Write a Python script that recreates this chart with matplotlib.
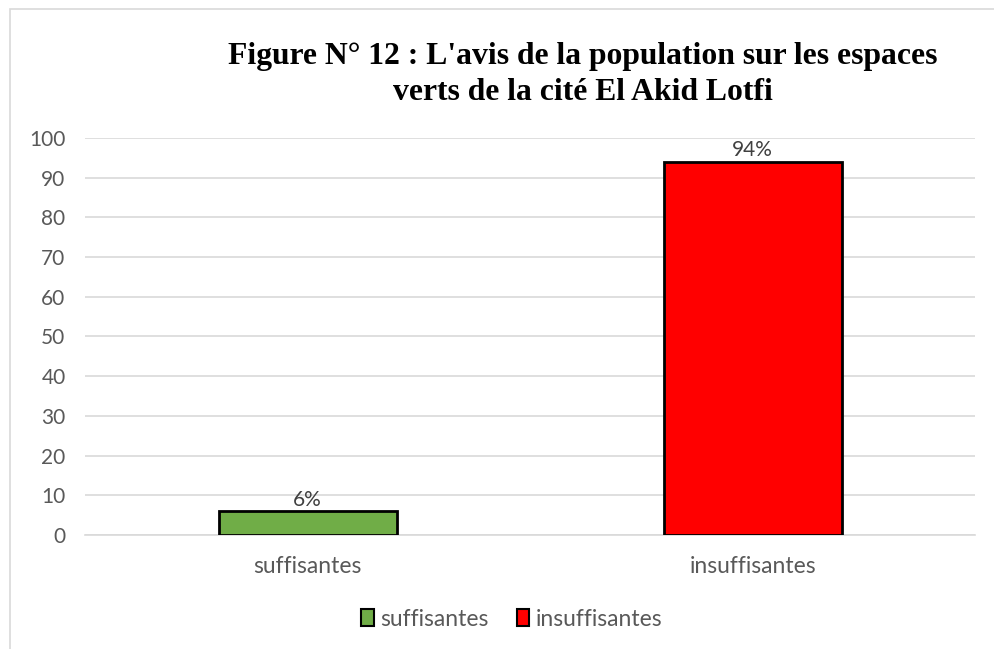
import matplotlib.pyplot as plt
from matplotlib.patches import Patch, Rectangle

# data
categories = ['suffisantes', 'insuffisantes']
values = [6, 94]
labels = ['6%', '94%']
colors = ['#70AD47', '#FF0000']
title_lines = ["Figure N° 12 : L'avis de la population sur les espaces",
               "verts de la cité El Akid Lotfi"]

plt.rcParams['font.family'] = ['Lato', 'DejaVu Sans']

fig = plt.figure(figsize=(9.94, 6.49), dpi=100)
ax = fig.add_axes([0.0855, 0.1757, 0.8955, 0.612])

# chart frame (cut off at right and bottom)
fig.patches.append(Rectangle((10 / 994, -0.05), 1.1, 1 - 9 / 649 + 0.05,
                             transform=fig.transFigure, fill=False,
                             edgecolor='#d9d9d9', linewidth=1.2))

x = range(len(categories))
bars = ax.bar(x, values, width=0.40, color=colors, edgecolor='black',
              linewidth=2, zorder=3)

for bar, lab in zip(bars, labels):
    ax.text(bar.get_x() + bar.get_width() / 2, bar.get_height() + 0.3, lab,
            ha='center', va='bottom', fontsize=15, color='#404040')

ax.set_xlim(-0.5, 1.5)
ax.set_ylim(0, 100)
ax.set_yticks(range(0, 101, 10))
ax.set_xticks(list(x))
ax.set_xticklabels(categories)
ax.tick_params(length=0, labelcolor='#595959')
ax.tick_params(axis='x', pad=15, labelsize=16.5)
ax.tick_params(axis='y', pad=14, labelsize=15)
ax.grid(axis='y', color='#d9d9d9', linewidth=1.2, zorder=0)
for s in ['top', 'right', 'left']:
    ax.spines[s].set_visible(False)
ax.spines['bottom'].set_color('#d9d9d9')
ax.spines['bottom'].set_linewidth(1.2)

# title, one line at a time (baselines at ~64px and ~100px from top)
for line, yb in zip(title_lines, [1 - 64 / 649, 1 - 100 / 649]):
    fig.text(0.586, yb, line, ha='center', va='baseline', fontsize=22.8,
             fontweight='bold', family='Liberation Serif')

handles = [Patch(facecolor=c, edgecolor='black', linewidth=1.5, label=n)
           for c, n in zip(colors, categories)]
fig.legend(handles=handles, loc='center', bbox_to_anchor=(0.515, 0.046),
           ncol=2, frameon=False, fontsize=16.5, labelcolor='#595959',
           handlelength=0.55, handleheight=0.75, handletextpad=0.3,
           columnspacing=1.2)

fig.savefig('out.png', dpi=100)
